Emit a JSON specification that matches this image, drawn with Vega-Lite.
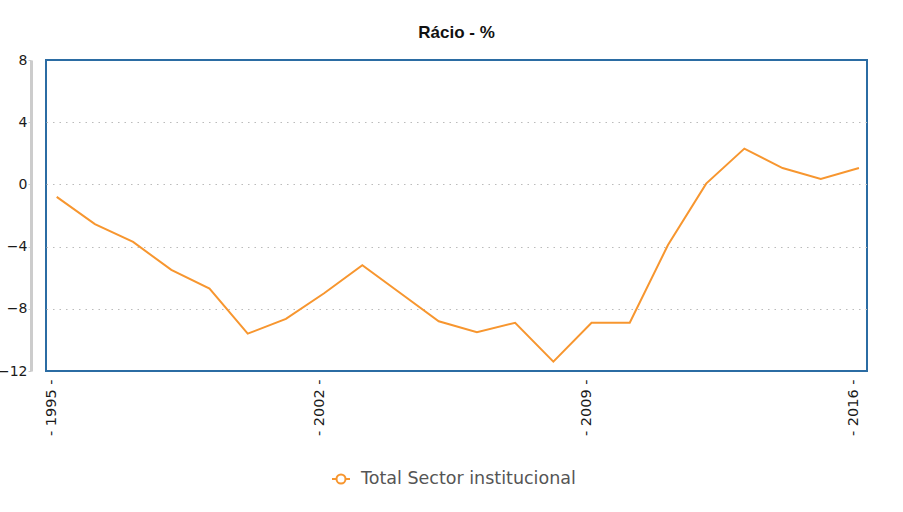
{
  "$schema": "https://vega.github.io/schema/vega-lite/v6.json",
  "width": 821,
  "height": 311,
  "autosize": "none",
  "padding": {"left": 46, "top": 60, "right": 36, "bottom": 141},
  "background": "white",
  "title": {
    "text": "Rácio - %",
    "font": "Liberation Sans",
    "fontSize": 17,
    "fontWeight": "bold",
    "color": "#111111",
    "anchor": "middle",
    "frame": "group",
    "offset": 11
  },
  "config": {
    "view": {"stroke": "#2b6ca3", "strokeWidth": 2},
    "axis": {"labelFont": "DejaVu Sans", "labelColor": "#1a1a1a"}
  },
  "data": {
    "values": [
      {"year": 1995, "value": -0.8, "series": "Total Sector institucional"},
      {"year": 1996, "value": -2.55, "series": "Total Sector institucional"},
      {"year": 1997, "value": -3.7, "series": "Total Sector institucional"},
      {"year": 1998, "value": -5.5, "series": "Total Sector institucional"},
      {"year": 1999, "value": -6.7, "series": "Total Sector institucional"},
      {"year": 2000, "value": -9.6, "series": "Total Sector institucional"},
      {"year": 2001, "value": -8.65, "series": "Total Sector institucional"},
      {"year": 2002, "value": -7.0, "series": "Total Sector institucional"},
      {"year": 2003, "value": -5.2, "series": "Total Sector institucional"},
      {"year": 2004, "value": -7.0, "series": "Total Sector institucional"},
      {"year": 2005, "value": -8.8, "series": "Total Sector institucional"},
      {"year": 2006, "value": -9.5, "series": "Total Sector institucional"},
      {"year": 2007, "value": -8.9, "series": "Total Sector institucional"},
      {"year": 2008, "value": -11.4, "series": "Total Sector institucional"},
      {"year": 2009, "value": -8.9, "series": "Total Sector institucional"},
      {"year": 2010, "value": -8.9, "series": "Total Sector institucional"},
      {"year": 2011, "value": -3.9, "series": "Total Sector institucional"},
      {"year": 2012, "value": 0.05, "series": "Total Sector institucional"},
      {"year": 2013, "value": 2.3, "series": "Total Sector institucional"},
      {"year": 2014, "value": 1.05, "series": "Total Sector institucional"},
      {"year": 2015, "value": 0.35, "series": "Total Sector institucional"},
      {"year": 2016, "value": 1.05, "series": "Total Sector institucional"}
    ]
  },
  "mark": {"type": "line", "strokeWidth": 2, "interpolate": "linear"},
  "encoding": {
    "x": {
      "field": "year",
      "type": "quantitative",
      "scale": {"domain": [1994.72, 2016.21], "nice": false, "zero": false},
      "axis": {
        "title": null,
        "values": [1995, 2002, 2009, 2016],
        "format": "d",
        "labelExpr": "'- ' + datum.label + ' -'",
        "labelAngle": -90,
        "labelAlign": "right",
        "labelBaseline": "middle",
        "labelFontSize": 14.5,
        "labelPadding": 8,
        "labelOffset": -5,
        "labelFlush": false,
        "labelOverlap": false,
        "ticks": false,
        "domain": false,
        "grid": false
      }
    },
    "y": {
      "field": "value",
      "type": "quantitative",
      "scale": {"domain": [-12, 8], "nice": false},
      "axis": {
        "title": null,
        "values": [-12, -8, -4, 0, 4, 8],
        "offset": 15,
        "domainColor": "#cccccc",
        "domainWidth": 3,
        "tickColor": "#cccccc",
        "tickSize": 3,
        "labelPadding": 1,
        "labelFontSize": 14,
        "grid": true,
        "gridColor": "#bbbbbb",
        "gridDash": [1.5, 5],
        "gridWidth": 1.2,
        "gridOpacity": {"condition": {"test": "datum.value == 8 || datum.value == -12", "value": 0}, "value": 1}
      }
    },
    "color": {
      "field": "series",
      "type": "nominal",
      "scale": {"range": ["#f7962f"]},
      "legend": {
        "title": null,
        "orient": "none",
        "legendX": 285,
        "legendY": 409,
        "labelFont": "DejaVu Sans",
        "labelFontSize": 17.5,
        "labelLimit": 0,
        "labelColor": "#555555",
        "symbolType": "M-1,0L-0.5,0M0.5,0L1,0M-0.5,0A0.5,0.5,0,1,0,0.5,0A0.5,0.5,0,1,0,-0.5,0Z",
        "symbolSize": 324,
        "symbolStrokeWidth": 2,
        "symbolFillColor": "white",
        "labelOffset": 10
      }
    }
  }
}
